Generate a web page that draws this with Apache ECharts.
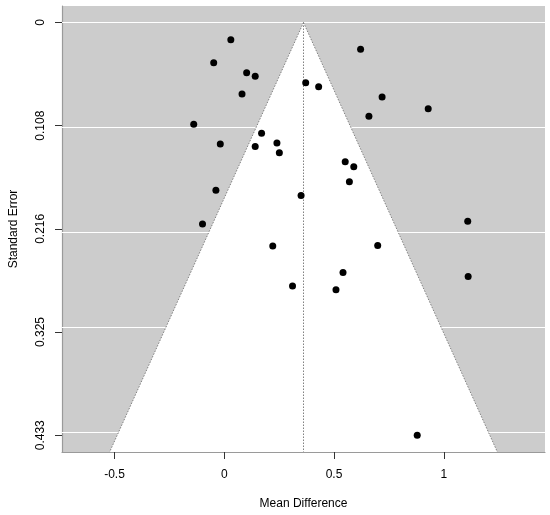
<!DOCTYPE html>
<html>
<head>
<meta charset="utf-8">
<script src="https://cdn.jsdelivr.net/npm/echarts@6/dist/echarts.min.js"></script>
<style>
  html, body { margin: 0; padding: 0; background: #fff; }
  #chart { width: 550px; height: 515px; }
</style>
</head>
<body>
<div id="chart"></div>
<script>
// study estimates (mean difference) and their standard errors
const meanDiff = [
  0.030, 0.621, -0.048, 0.102, 0.141, 0.371, 0.430, 0.081, 0.719, 0.929,
  0.659, -0.139, 0.170, -0.018, 0.240, 0.141, 0.251, 0.551, 0.590, 0.570,
  -0.038, 0.350, 1.109, -0.099, 0.221, 0.699, 0.541, 1.111, 0.311, 0.509,
  0.879
]
const stdErr = [
  0.0181, 0.0282, 0.0422, 0.0526, 0.0565, 0.0631, 0.0673, 0.0750, 0.0781, 0.0906,
  0.0983, 0.1067, 0.1161, 0.1276, 0.1265, 0.1300, 0.1367, 0.1461, 0.1513, 0.1670,
  0.1760, 0.1816, 0.2085, 0.2113, 0.2346, 0.2339, 0.2624, 0.2666, 0.2764, 0.2805,
  0.4330
]

// pooled estimate (funnel centre)
const pooledMean = 0.361
const zCrit = 1.96

// axis ticks
const xTicks = [-0.5, 0, 0.5, 1]
const seTicks = [0, 0.10825, 0.2165, 0.32475, 0.433]
const seTickLabels = ['0', '0.108', '0.216', '0.325', '0.433']

const xRange = [-0.739, 1.461]
const seRange = [-0.0173, 0.4506]

const FONT = 'Liberation Sans, Arial, sans-serif'

const chart = echarts.init(document.getElementById('chart'))

const points = meanDiff.map((x, i) => [x, stdErr[i]])

// funnel region drawn through the axes
function renderFunnel(params, api) {
  const seBottom = seRange[1]
  const tip = api.coord([pooledMean, 0])
  const left = api.coord([pooledMean - zCrit * seBottom, seBottom])
  const right = api.coord([pooledMean + zCrit * seBottom, seBottom])
  const bottomMid = api.coord([pooledMean, seBottom])
  const dotted = { stroke: '#808080', lineWidth: 1, lineDash: [1.5, 1.5] }
  return {
    type: 'group',
    children: [
      {
        type: 'polygon',
        shape: { points: [tip, left, right] },
        style: { fill: '#ffffff' }
      },
      { type: 'line', shape: { x1: tip[0], y1: tip[1], x2: left[0], y2: left[1] }, style: dotted },
      { type: 'line', shape: { x1: tip[0], y1: tip[1], x2: right[0], y2: right[1] }, style: dotted },
      { type: 'line', shape: { x1: tip[0], y1: tip[1], x2: bottomMid[0], y2: bottomMid[1] }, style: dotted }
    ]
  }
}

chart.setOption({
  animation: false,
  grid: {
    left: 62,
    right: 5,
    top: 6,
    bottom: 62,
    show: true,
    backgroundColor: '#cccccc',
    borderWidth: 0
  },
  xAxis: {
    type: 'value',
    min: xRange[0],
    max: xRange[1],
    name: 'Mean Difference',
    nameLocation: 'middle',
    nameGap: 46,
    nameTextStyle: { fontFamily: FONT, fontSize: 12, color: '#000' },
    axisLine: { show: true, onZero: false, lineStyle: { color: '#9a9a9a', width: 1.2 } },
    axisTick: { show: true, customValues: xTicks, length: 7, lineStyle: { color: '#333' } },
    axisLabel: {
      customValues: xTicks,
      margin: 17,
      fontFamily: FONT,
      fontSize: 12,
      color: '#000'
    },
    splitLine: { show: false }
  },
  yAxis: {
    type: 'value',
    inverse: true,
    min: seRange[0],
    max: seRange[1],
    name: 'Standard Error',
    nameLocation: 'middle',
    nameGap: 42,
    nameTextStyle: { fontFamily: FONT, fontSize: 12, color: '#000' },
    axisLine: { show: true, onZero: false, lineStyle: { color: '#9a9a9a', width: 1.2 } },
    axisTick: { show: true, customValues: seTicks, length: 7, lineStyle: { color: '#333' } },
    axisLabel: {
      customValues: seTicks,
      rotate: 90,
      margin: 15,
      fontFamily: FONT,
      fontSize: 12,
      color: '#000',
      formatter: (v) => {
        const i = seTicks.findIndex((t) => Math.abs(t - v) < 1e-6)
        return i >= 0 ? seTickLabels[i] : ''
      }
    },
    splitLine: { show: false }
  },
  series: [
    {
      type: 'custom',
      renderItem: renderFunnel,
      data: [[pooledMean, 0]],
      silent: true,
      z: 2
    },
    {
      type: 'scatter',
      data: points,
      symbol: 'circle',
      symbolSize: 7,
      itemStyle: { color: '#000', opacity: 1 },
      z: 5,
      markLine: {
        silent: true,
        symbol: 'none',
        label: { show: false },
        lineStyle: { color: '#ffffff', width: 1.2, type: 'solid' },
        data: seTicks.map((v) => ({ yAxis: v })),
        z: 1
      }
    }
  ]
})
</script>
</body>
</html>
